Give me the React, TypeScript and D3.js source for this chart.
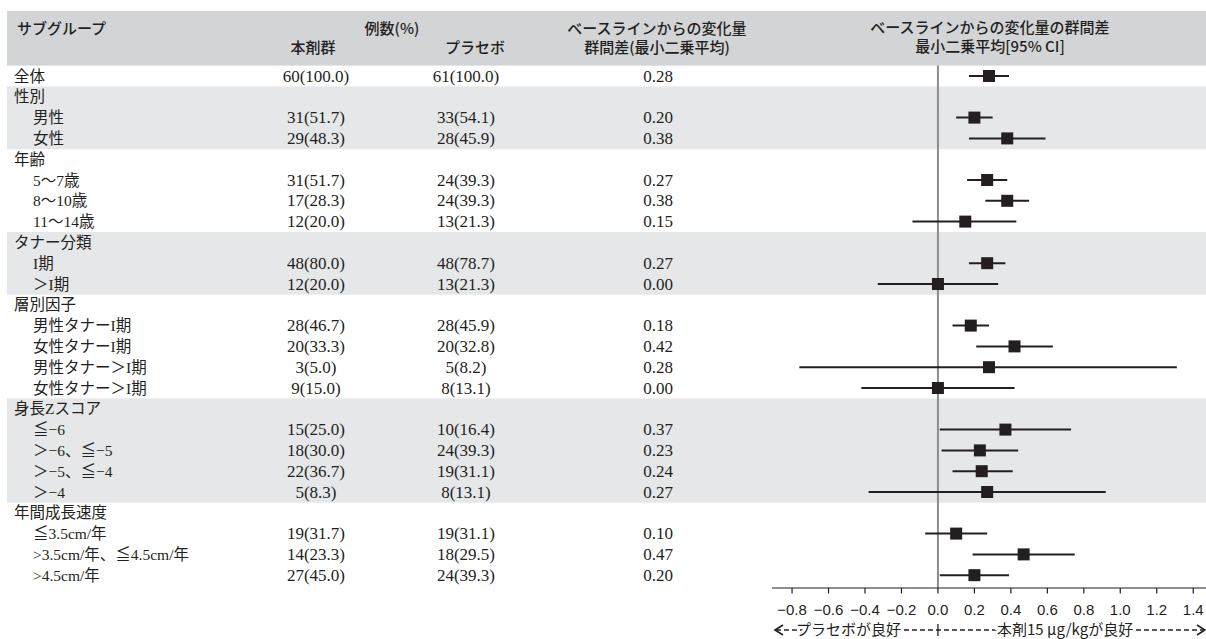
import React from 'react';
import * as d3 from 'd3';

const subgroups = ['全体', '性別', '男性', '女性', '年齢', '5～7歳', '8～10歳', '11～14歳', 'タナー分類', 'I期', '＞I期', '層別因子', '男性タナーI期', '女性タナーI期', '男性タナー＞I期', '女性タナー＞I期', '身長Zスコア', '≦−6', '＞−6、≦−5', '＞−5、≦−4', '＞−4', '年間成長速度', '≦3.5cm/年', '>3.5cm/年、≦4.5cm/年', '>4.5cm/年'];
const levels = [0, 0, 1, 1, 0, 1, 1, 1, 0, 1, 1, 0, 1, 1, 1, 1, 0, 1, 1, 1, 1, 0, 1, 1, 1];
const drugN = ['60(100.0)', '', '31(51.7)', '29(48.3)', '', '31(51.7)', '17(28.3)', '12(20.0)', '', '48(80.0)', '12(20.0)', '', '28(46.7)', '20(33.3)', '3(5.0)', '9(15.0)', '', '15(25.0)', '18(30.0)', '22(36.7)', '5(8.3)', '', '19(31.7)', '14(23.3)', '27(45.0)'];
const placeboN = ['61(100.0)', '', '33(54.1)', '28(45.9)', '', '24(39.3)', '24(39.3)', '13(21.3)', '', '48(78.7)', '13(21.3)', '', '28(45.9)', '20(32.8)', '5(8.2)', '8(13.1)', '', '10(16.4)', '24(39.3)', '19(31.1)', '8(13.1)', '', '19(31.1)', '18(29.5)', '24(39.3)'];
const lsmDiff: (number | null)[] = [0.28, null, 0.20, 0.38, null, 0.27, 0.38, 0.15, null, 0.27, 0.00, null, 0.18, 0.42, 0.28, 0.00, null, 0.37, 0.23, 0.24, 0.27, null, 0.10, 0.47, 0.20];
const ciLow: (number | null)[] = [0.17, null, 0.10, 0.17, null, 0.16, 0.26, -0.14, null, 0.17, -0.33, null, 0.08, 0.21, -0.76, -0.42, null, 0.01, 0.02, 0.08, -0.38, null, -0.07, 0.19, 0.01];
const ciHigh: (number | null)[] = [0.39, null, 0.30, 0.59, null, 0.38, 0.50, 0.43, null, 0.37, 0.33, null, 0.28, 0.63, 1.31, 0.42, null, 0.73, 0.44, 0.41, 0.92, null, 0.27, 0.75, 0.39];
const xTicks = [-0.8, -0.6, -0.4, -0.2, 0.0, 0.2, 0.4, 0.6, 0.8, 1.0, 1.2, 1.4];

const W = 1206;
const H = 639;
const INK = '#231f20';
const HEAD_BG = '#d3d4d6';
const BAND_BG = '#e6e7e9';
const GOTHIC = "'Noto Sans CJK JP', 'Noto Sans', sans-serif";
const SERIF = "'Liberation Serif', 'Noto Sans CJK JP', serif";
const SANS = "'Liberation Sans', Arial, sans-serif";

export default function App() {
  const x = d3.scaleLinear().domain([-0.91, 1.47]).range([772, W]);
  const y = d3
    .scaleBand<number>()
    .domain(subgroups.map((_, i) => i))
    .range([65.6, 585.6])
    .paddingInner(0)
    .paddingOuter(0);
  const bw = y.bandwidth();
  const cy = (i: number) => (y(i) as number) + bw / 2;

  const groupIdx: number[] = [];
  let g = -1;
  levels.forEach((l) => {
    if (l === 0) g += 1;
    groupIdx.push(g);
  });

  const axisY = 588;
  const arrowY = 630;
  const fmt = d3.format('.1f');
  const fmt2 = d3.format('.2f');

  return (
    <svg
      width={W}
      height={H}
      style={{ position: 'absolute', left: 0, top: 0, background: '#fff' }}
      xmlns="http://www.w3.org/2000/svg"
    >
      <rect x={7} y={11} width={W - 7} height={65.6 - 11} fill={HEAD_BG} />
      {subgroups.map((_, i) =>
        groupIdx[i] % 2 === 1 ? (
          <rect key={'b' + i} x={7} y={y(i)} width={W - 7} height={bw + 0.3} fill={BAND_BG} />
        ) : null
      )}

      <g fontFamily={GOTHIC} fontSize={15} fontWeight={500} fill={INK}>
        <text x={17} y={34}>サブグループ</text>
        <text x={392} y={34} textAnchor="middle">例数(%)</text>
        <text x={313} y={53} textAnchor="middle">本剤群</text>
        <text x={475} y={53} textAnchor="middle">プラセボ</text>
        <text x={657} y={34} textAnchor="middle">ベースラインからの変化量</text>
        <text x={657} y={53} textAnchor="middle">群間差(最小二乗平均)</text>
        <text x={990} y={33} textAnchor="middle">ベースラインからの変化量の群間差</text>
        <text x={990} y={52} textAnchor="middle">最小二乗平均[95% CI]</text>
      </g>

      <g fill={INK}>
        {subgroups.map((s, i) => (
          <g key={'r' + i}>
            <text x={levels[i] === 0 ? 14 : 33} y={cy(i) + 5.5} fontFamily={SERIF} fontSize={15.5}>
              {s}
            </text>
            {drugN[i] ? (
              <text x={316} y={cy(i) + 5.5} textAnchor="middle" fontFamily={SERIF} fontSize={17}>
                {drugN[i]}
              </text>
            ) : null}
            {placeboN[i] ? (
              <text x={466} y={cy(i) + 5.5} textAnchor="middle" fontFamily={SERIF} fontSize={17}>
                {placeboN[i]}
              </text>
            ) : null}
            {lsmDiff[i] !== null ? (
              <text x={658} y={cy(i) + 5.5} textAnchor="middle" fontFamily={SERIF} fontSize={17}>
                {fmt2(lsmDiff[i] as number)}
              </text>
            ) : null}
          </g>
        ))}
      </g>

      <line x1={x(0)} x2={x(0)} y1={65.6} y2={axisY} stroke="#8c8c8c" strokeWidth={2} />

      {subgroups.map((_, i) =>
        lsmDiff[i] !== null ? (
          <g key={'f' + i}>
            <line
              x1={x(ciLow[i] as number)}
              x2={x(ciHigh[i] as number)}
              y1={cy(i)}
              y2={cy(i)}
              stroke={INK}
              strokeWidth={2}
            />
            <rect x={x(lsmDiff[i] as number) - 6} y={cy(i) - 6} width={12} height={12} fill={INK} />
          </g>
        ) : null
      )}

      <line x1={x.range()[0]} x2={x.range()[1]} y1={axisY} y2={axisY} stroke={INK} strokeWidth={1.2} />
      {xTicks.map((t) => (
        <g key={'t' + t}>
          <line x1={x(t)} x2={x(t)} y1={axisY} y2={axisY + 5.5} stroke={INK} strokeWidth={1.2} />
          <text x={x(t)} y={axisY + 27} textAnchor="middle" fontFamily={SANS} fontSize={15} fill={INK}>
            {fmt(t).replace('-', '−')}
          </text>
        </g>
      ))}

      <g>
        <line x1={776} x2={1203} y1={arrowY} y2={arrowY} stroke={INK} strokeWidth={1.3} strokeDasharray="5,3" />
        <line x1={x(0)} x2={x(0)} y1={arrowY - 6} y2={arrowY + 6} stroke={INK} strokeWidth={1.3} />
        <polyline
          points={`783,${arrowY - 5} 775,${arrowY} 783,${arrowY + 5}`}
          fill="none"
          stroke={INK}
          strokeWidth={1.6}
        />
        <polyline
          points={`1197,${arrowY - 5} 1205,${arrowY} 1197,${arrowY + 5}`}
          fill="none"
          stroke={INK}
          strokeWidth={1.6}
        />
        <text
          x={796}
          y={arrowY + 5}
          fontFamily={GOTHIC}
          fontSize={15}
          fill={INK}
          stroke="#fff"
          strokeWidth={6}
          paintOrder="stroke"
        >
          プラセボが良好
        </text>
        <text
          x={997}
          y={arrowY + 5}
          fontFamily={GOTHIC}
          fontSize={15}
          fill={INK}
          stroke="#fff"
          strokeWidth={6}
          paintOrder="stroke"
        >
          本剤15 μg/kgが良好
        </text>
      </g>
    </svg>
  );
}
